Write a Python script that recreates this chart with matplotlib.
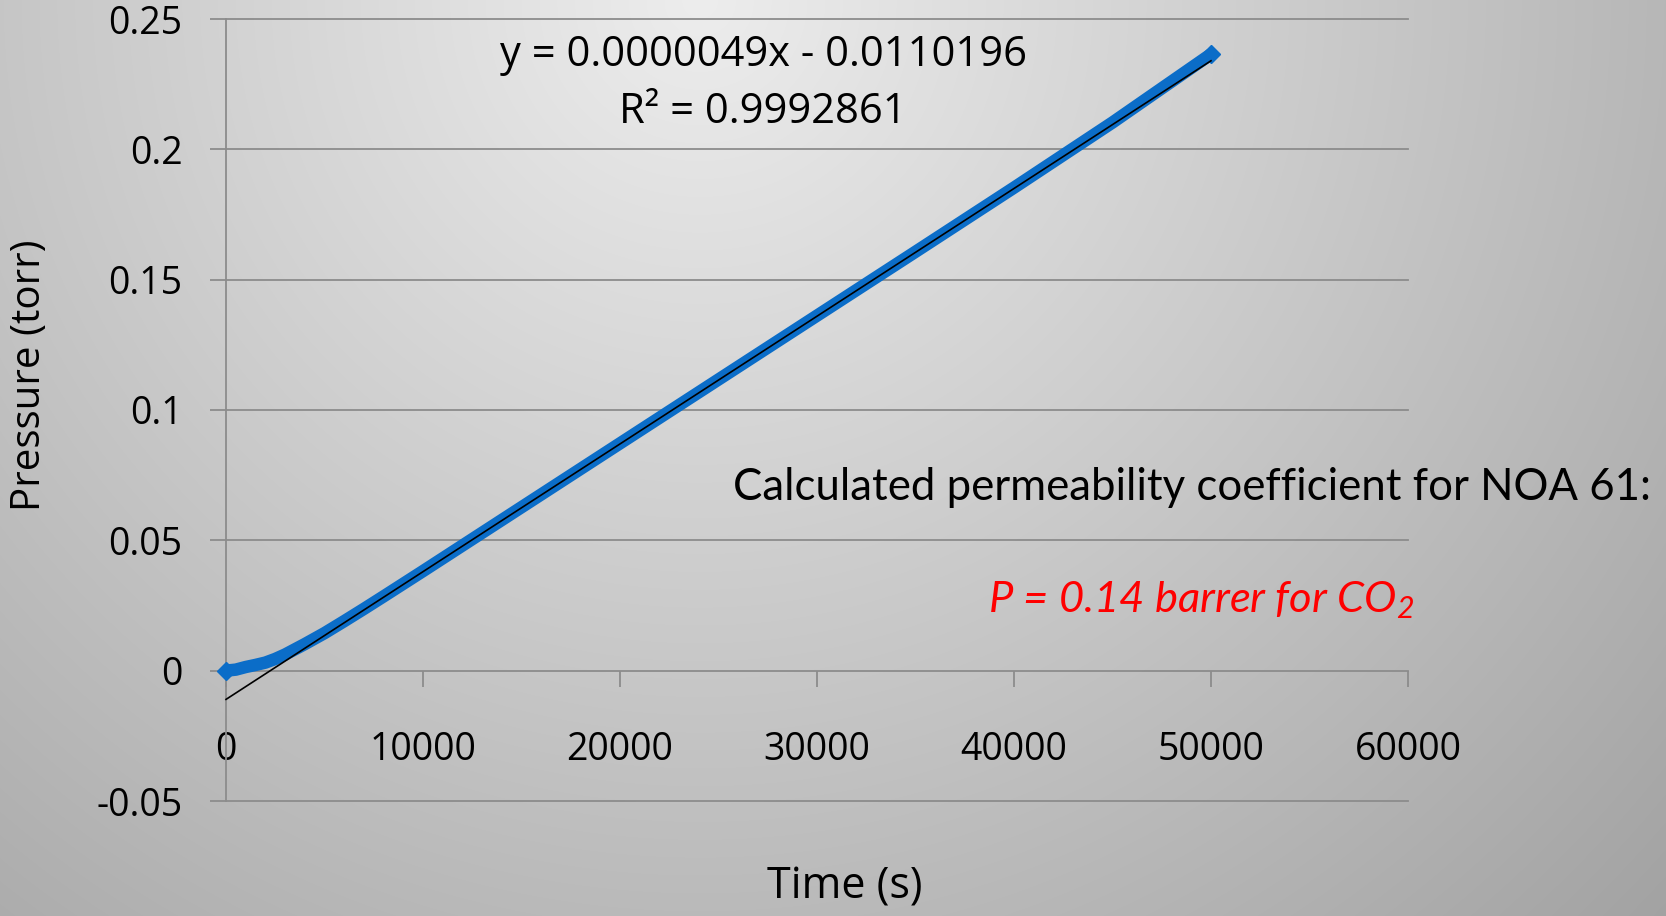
import numpy as np
import matplotlib
matplotlib.use("Agg")
import matplotlib.pyplot as plt

# time-lag measurement, NOA 61 / CO2
time_s = [0, 500, 1000, 1500, 2000, 2500, 3000, 4000, 5000, 6000, 7000, 8000,
          10000, 12000, 15000, 20000, 25000, 30000, 35000, 40000, 45000, 50000]
pressure_torr = [0.0, 0.0004, 0.0014, 0.0022, 0.0031, 0.0045, 0.0062, 0.0102, 0.0144,
                 0.019, 0.0237, 0.0285, 0.0382, 0.048, 0.0627, 0.0872, 0.1117,
                 0.1362, 0.1607, 0.1853, 0.2103, 0.2365]

# Excel trendline
slope = 0.0000049
intercept = -0.0110196
r_squared = 0.9992861
trend_x = [0, 50000]

x_ticks = [0, 10000, 20000, 30000, 40000, 50000, 60000]
y_ticks = [-0.05, 0, 0.05, 0.1, 0.15, 0.2, 0.25]
y_tick_labels = ["-0.05", "0", "0.05", "0.1", "0.15", "0.2", "0.25"]

W, H = 1666, 916
fig = plt.figure(figsize=(W / 100, H / 100), dpi=100)

# grey radial background like the slide
bg = fig.add_axes([0, 0, 1, 1], zorder=-10)
yy, xx = np.mgrid[0:H, 0:W]
dist = np.sqrt((xx - 0.42 * W) ** 2 + (yy * 1.0) ** 2)
shade = np.clip(237 - 0.056 * dist, 150, 240) / 255.0
bg.imshow(np.dstack([shade, shade, shade]), aspect="auto", extent=[0, 1, 0, 1])
bg.axis("off")

ax = fig.add_axes([226 / W, 1 - 801 / H, (1408 - 226) / W, (801 - 19) / H])
ax.set_facecolor("none")

grid_col = "#8c8c8c"
ax.set_xlim(0, 60000)
ax.set_ylim(-0.05, 0.25)
ax.set_yticks(y_ticks)
ax.set_yticklabels(y_tick_labels)
ax.set_xticks(x_ticks)
ax.set_xticklabels([str(v) for v in x_ticks])

for v in y_ticks:
    if v != 0:
        ax.axhline(v, color=grid_col, lw=1.3, zorder=1, clip_on=False)

ax.spines["top"].set_visible(False)
ax.spines["right"].set_visible(False)
ax.spines["bottom"].set_position(("data", 0))
ax.spines["bottom"].set_color(grid_col)
ax.spines["left"].set_color(grid_col)
ax.spines["bottom"].set_linewidth(1.3)
ax.spines["left"].set_linewidth(1.3)

ax.tick_params(axis="y", direction="out", length=11.5, width=1.3, color=grid_col, pad=20)
ax.tick_params(axis="x", direction="out", length=11.5, width=1.3, color=grid_col, pad=32)
for lab in ax.get_xticklabels() + ax.get_yticklabels():
    lab.set_fontfamily("Open Sans")
    lab.set_fontsize(27)

ax.plot(time_s, pressure_torr, color="#0b6dc8", lw=9, solid_capstyle="butt",
        marker="D", markersize=9, markevery=[0, len(time_s) - 1], zorder=3, clip_on=False)
ax.plot(trend_x, [slope * t + intercept for t in trend_x], color="black", lw=1.2,
        zorder=4, clip_on=False)

fig.text(763 / W, 1 - 55 / H, "y = %.7fx - %.7f" % (slope, -intercept),
         ha="center", va="center", fontfamily="Open Sans", fontsize=30)
fig.text(763 / W, 1 - 112 / H, "R² = %.7f" % r_squared,
         ha="center", va="center", fontfamily="Open Sans", fontsize=30)

fig.text(845 / W, 1 - 887 / H, "Time (s)", ha="center", va="center",
         fontfamily="Open Sans", fontsize=31)
fig.text(30 / W, 1 - 375 / H, "Pressure (torr)", ha="center", va="center",
         rotation=90, fontfamily="Open Sans", fontsize=29)

fig.text(733 / W, 1 - 487 / H, "Calculated permeability coefficient for NOA 61:",
         ha="left", va="center", fontfamily="Lato", fontsize=31.5)

plt.rcParams["mathtext.fontset"] = "custom"
plt.rcParams["mathtext.rm"] = "Lato:italic"
plt.rcParams["mathtext.it"] = "Lato:italic"
fig.text(988 / W, 1 - 600 / H, "P = 0.14 barrer for CO$_2$", ha="left", va="center",
         fontfamily="Lato", fontstyle="italic", fontsize=31.3, color="#ff0000")

fig.savefig("out.png", dpi=100)
